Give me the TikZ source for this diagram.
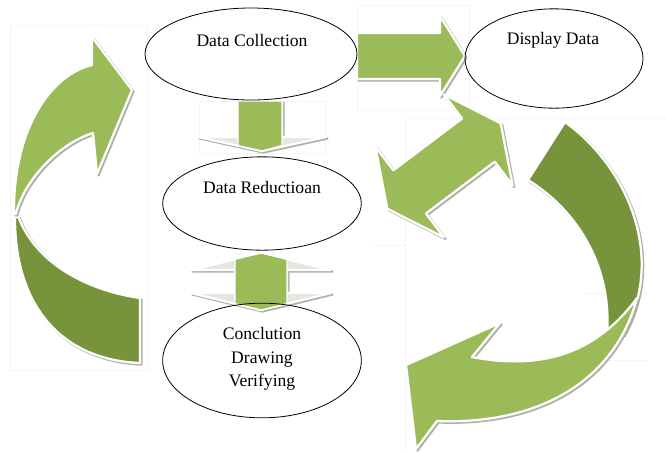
\documentclass[tikz,border=0pt]{standalone}
\usepackage{fontspec}
\setmainfont{Liberation Serif}
\usetikzlibrary{shapes.geometric}
\definecolor{lg}{RGB}{155,187,89}
\definecolor{dg}{RGB}{119,147,60}
\definecolor{shd}{RGB}{175,175,170}
\definecolor{wing}{RGB}{228,230,224}
\tikzset{
 shad/.style={preaction={draw=shd,fill=shd,line width=1.7pt,line join=round,transform canvas={xshift=1.1pt,yshift=-1.1pt}}},
 band/.style={shad,draw=white,line width=1.7pt,line join=round},
 ell/.style={draw=black,ellipse,line width=0.6pt,inner sep=0pt,outer sep=0pt},
 lbl/.style={font=\fontsize{13.2}{17.6}\selectfont,inner sep=0pt,align=center},
 frame/.style={draw=black!4,line width=0.4pt}
}
\begin{document}
\begin{tikzpicture}[x=0.75pt,y=-0.75pt]
\useasboundingbox[fill=white] (0,0) rectangle (666,451);
% faint picture frames
\draw[frame] (10,25) rectangle (147,370);
\draw[frame] (199,101) rectangle (325,153);
\draw[frame] (357,5) rectangle (469,110);
\draw[frame] (405,451) -- (405,118) -- (666,118);
\draw[frame] (373,245) -- (405,245);
\draw[frame] (583,293) -- (648,293);
\draw[frame] (583,360) -- (648,360);
% big left arrow
\path[band,fill=dg] (15,218) .. controls (15,310) and (65,360) .. (140,363)
  -- (140,298) .. controls (85,290) and (35,262) .. (18,216) -- cycle;
\path[band,fill=lg] (14,214) .. controls (13,130) and (50,75) .. (92,65)
  -- (92,37) -- (132,90) -- (97,174) -- (93,133)
  .. controls (55,145) and (22,185) .. (16,214) -- cycle;
% big right arrow
\path[band,fill=dg] (565,122) .. controls (625,165) and (668,255) .. (623,335)
  -- (607,333) .. controls (612,270) and (580,212) .. (528,180) -- cycle;
\path[band,fill=lg] (637,298) .. controls (615,380) and (540,425) .. (437,421)
  -- (416,449) -- (406,365) -- (500,323) -- (472,357)
  .. controls (540,370) and (595,355) .. (637,298) -- cycle;
% right arrow
\path[band,fill=lg] (357,33) -- (440,33) -- (440,16) -- (465,56) -- (440,96)
  -- (440,79) -- (357,79) -- cycle;
% diagonal double arrow
\path[band,fill=lg] (500.7,123.3) -- (512.7,185.6) -- (494.7,161.7) -- (425.9,213.5)
  -- (443.9,237.4) -- (387.3,208.7) -- (375.3,146.4) -- (393.3,170.3)
  -- (462.1,118.5) -- (444.1,94.6) -- cycle;
% down arrow
\path[band,fill=wing] (238,101) -- (282,101) -- (282,137) -- (326,137) -- (262,151)
  -- (198,137) -- (238,137) -- cycle;
\path[fill=lg,draw=white,line width=1pt] (238,101) -- (282,101) -- (282,145.5) -- (262,151)
  -- (238,145.5) -- cycle;
% double vertical arrow
\path[band,fill=wing] (261,253) -- (331,270) -- (287,270) -- (287,293) -- (331,293)
  -- (261,310) -- (191,293) -- (235,293) -- (235,270) -- (191,270) -- cycle;
\path[fill=lg,draw=white,line width=1pt] (261,253) -- (287,259.3) -- (287,303.7) -- (261,310)
  -- (235,303.7) -- (235,259.3) -- cycle;
% ellipses
\node[ell,minimum width=159pt,minimum height=69pt] (dc) at (251,54) {};
\node[ell,minimum width=133.5pt,minimum height=74.5pt] (dd) at (554,58.5) {};
\node[ell,minimum width=149pt,minimum height=70pt] (dr) at (262,203.5) {};
\node[ell,minimum width=149pt,minimum height=86pt] (cd) at (262,360.5) {};
\node[lbl] (dct) at (252,40) {Data Collection};
\node[lbl] (ddt) at (553,40) {Display Data};
\node[lbl] (drt) at (262,187) {Data Reductioan};
\node[lbl] (cdt) at (262,359) {Conclution\\Drawing\\Verifying};
\end{tikzpicture}
\end{document}
